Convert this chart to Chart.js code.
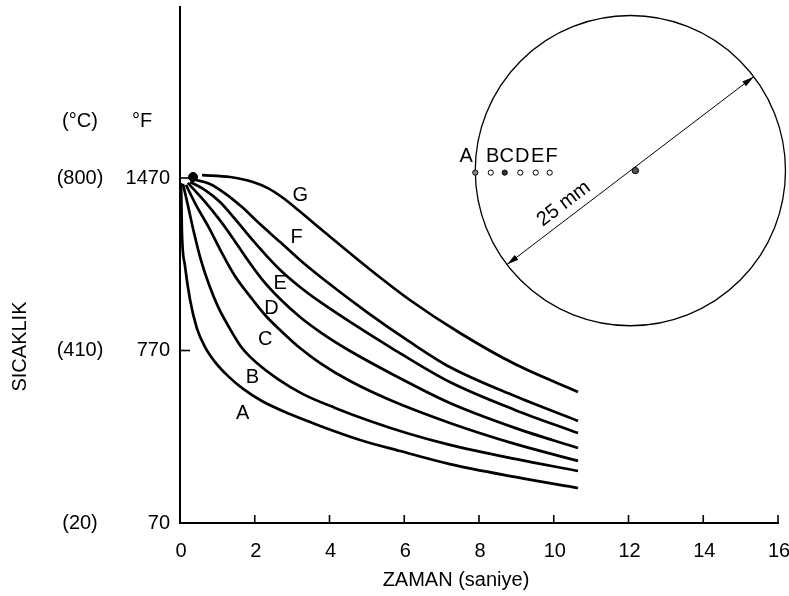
<!DOCTYPE html>
<html lang="tr">
<head>
<meta charset="UTF-8">
<title>Sıcaklık - Zaman</title>
<script src="https://cdn.jsdelivr.net/npm/chart.js"></script>
<style>
  html, body { margin: 0; padding: 0; background: #fff; }
  canvas { display: block; }
</style>
</head>
<body>
<canvas id="coolingChart" width="789" height="596"></canvas>
<script>
// cooling curves, time (s) vs temperature (°F), one array per sampling point
const curveA = [[0.03,1450],[0.05,1259],[0.13,1117],[0.27,975],[0.45,861],[0.67,784],[0.94,723],[1.28,667],[1.69,614],[2.19,565],[2.94,512],[3.75,464],[4.82,407],[5.89,362],[7.22,309],[8.96,257],[10.65,212]];
const curveB = [[0.08,1446],[0.21,1360],[0.37,1251],[0.56,1137],[0.78,1036],[1.02,947],[1.31,865],[1.66,780],[2.09,715],[2.62,654],[3.29,593],[4.15,537],[5.08,484],[6.15,431],[7.22,387],[8.96,330],[10.65,281]];
const curveC = [[0.16,1442],[0.43,1360],[0.78,1267],[1.12,1166],[1.47,1072],[1.95,975],[2.30,910],[2.68,853],[3.21,780],[3.75,719],[4.55,646],[5.62,569],[7.22,476],[8.96,391],[10.65,322]];
const curveD = [[0.21,1450],[0.67,1373],[1.04,1304],[1.39,1231],[1.74,1153],[2.19,1060],[2.68,979],[3.21,906],[3.75,845],[4.55,768],[5.62,679],[7.22,557],[8.96,456],[10.65,374]];
const curveE = [[0.27,1454],[0.67,1421],[1.07,1373],[1.47,1304],[1.87,1231],[2.27,1162],[2.68,1097],[3.21,1028],[3.75,967],[4.55,886],[5.62,784],[7.22,642],[8.96,529],[10.65,435]];
const curveF = [[0.43,1462],[0.80,1446],[1.23,1405],[1.66,1352],[2.11,1287],[2.68,1210],[3.21,1137],[3.83,1060],[5.00,926],[6.15,805],[7.22,703],[8.96,585],[10.65,484]];
const curveG = [[0.59,1482],[1.34,1474],[1.95,1454],[2.35,1429],[2.76,1389],[3.16,1340],[3.83,1255],[5.00,1109],[6.15,975],[7.49,841],[8.96,715],[10.65,602]];
const startPoint = [[0.35,1474]];

const curveNames = ['A', 'B', 'C', 'D', 'E', 'F', 'G'];
const curves = [curveA, curveB, curveC, curveD, curveE, curveF, curveG];

const xTicks = [0, 2, 4, 6, 8, 10, 12, 14, 16];
const fahrenheitTicks = [70, 770, 1470];
const celsiusLabels = ['(20)', '(410)', '(800)'];

// where each curve letter sits (time, °F)
const labelSpots = [[1.68,516],[1.94,662],[2.28,813],[2.45,942],[2.68,1044],[3.12,1227],[3.22,1401]];

// bar cross-section: center, radius in seconds, sampling depths as fraction of radius
const barCenter = [12.05, 1500];
const barRadius = 4.15;
const sampleNames = ['A', 'B', 'C', 'D', 'E', 'F'];
const sampleDepths = [1.0, 0.9, 0.81, 0.71, 0.61, 0.52];
const sampleFilled = [false, false, true, false, false, false];

const FONT = "'Liberation Sans', Arial, Helvetica, sans-serif";

const overlay = {
  id: 'overlay',
  afterDraw(chart) {
    const { ctx, scales: { x, y } } = chart;
    const x0 = x.getPixelForValue(0);
    const y0 = y.getPixelForValue(70);
    ctx.save();
    ctx.strokeStyle = '#000';
    ctx.fillStyle = '#000';

    // inward ticks
    ctx.lineWidth = 1.6;
    xTicks.slice(1).forEach(v => {
      const px = x.getPixelForValue(v);
      ctx.beginPath(); ctx.moveTo(px, y0); ctx.lineTo(px, y0 - 8); ctx.stroke();
    });
    fahrenheitTicks.slice(1).forEach(v => {
      const py = y.getPixelForValue(v);
      ctx.beginPath(); ctx.moveTo(x0, py); ctx.lineTo(x0 + 10, py); ctx.stroke();
    });

    ctx.font = '20px ' + FONT;
    ctx.textBaseline = 'middle';

    // tick labels
    ctx.textAlign = 'center';
    xTicks.forEach(v => ctx.fillText(String(v), x.getPixelForValue(v) + 1, y0 + 28));
    ctx.textAlign = 'right';
    fahrenheitTicks.forEach(v => ctx.fillText(String(v), x0 - 10, y.getPixelForValue(v)));

    // celsius column and unit headers
    ctx.textAlign = 'center';
    const cCol = x0 - 100;
    fahrenheitTicks.forEach((v, i) => {
      ctx.fillText(celsiusLabels[i], cCol, y.getPixelForValue(v));
    });
    const headY = y.getPixelForValue(1470) - 57;
    ctx.fillText('(°C)', cCol, headY);
    ctx.fillText('°F', x0 - 38, headY);

    // axis titles
    ctx.fillText('ZAMAN (saniye)', x0 + 276, y0 + 57);
    ctx.save();
    ctx.translate(20, y.getPixelForValue(770) - 4);
    ctx.rotate(-Math.PI / 2);
    ctx.fillText('SICAKLIK', 0, 0);
    ctx.restore();

    // curve letters
    labelSpots.forEach(([t, f], i) => {
      ctx.fillText(curveNames[i], x.getPixelForValue(t), y.getPixelForValue(f));
    });

    // bar cross-section
    const cx = x.getPixelForValue(barCenter[0]);
    const cy = y.getPixelForValue(barCenter[1]);
    const r = x.getPixelForValue(barCenter[0] + barRadius) - cx;
    ctx.lineWidth = 1.3;
    ctx.beginPath(); ctx.arc(cx, cy, r, 0, Math.PI * 2); ctx.stroke();

    // diameter with arrowheads
    const ang = 37.3 * Math.PI / 180;
    const ux = Math.cos(ang), uy = -Math.sin(ang);
    ctx.lineWidth = 1;
    ctx.beginPath();
    ctx.moveTo(cx - ux * r, cy - uy * r);
    ctx.lineTo(cx + ux * r, cy + uy * r);
    ctx.stroke();
    [1, -1].forEach(s => {
      const tx = cx + s * ux * r, ty = cy + s * uy * r;
      const bx = tx - s * ux * 12, by = ty - s * uy * 12;
      ctx.beginPath();
      ctx.moveTo(tx, ty);
      ctx.lineTo(bx - uy * 3, by + ux * 3);
      ctx.lineTo(bx + uy * 3, by - ux * 3);
      ctx.closePath();
      ctx.fill();
    });

    // center point (curve G)
    ctx.fillStyle = '#555';
    ctx.beginPath(); ctx.arc(cx + 5, cy, 3.2, 0, Math.PI * 2); ctx.fill(); ctx.stroke();

    // diameter label
    ctx.save();
    ctx.translate(cx - ux * 73 + uy * 14, cy - uy * 73 - ux * 14);
    ctx.rotate(-ang);
    ctx.fillStyle = '#000';
    ctx.textAlign = 'center';
    ctx.fillText('25 mm', 0, 0);
    ctx.restore();

    // sampling points A–F
    sampleDepths.forEach((d, i) => {
      const px = cx - d * r;
      ctx.beginPath();
      ctx.arc(px, cy + 2, 2.6, 0, Math.PI * 2);
      ctx.fillStyle = i === 0 ? '#888' : (sampleFilled[i] ? '#333' : '#fff');
      ctx.fill();
      ctx.lineWidth = 1;
      ctx.stroke();
      ctx.fillStyle = '#000';
      ctx.fillText(sampleNames[i], px + (i === 0 ? -9 : 2), cy - 14);
    });

    ctx.restore();
  }
};

const datasets = curves.map((c, i) => ({
  label: curveNames[i],
  data: c.map(([t, f]) => ({ x: t, y: f })),
  borderColor: '#000',
  borderWidth: 2.7,
  pointRadius: 0,
  cubicInterpolationMode: 'monotone',
  fill: false
}));
datasets.push({
  label: 'start',
  data: startPoint.map(([t, f]) => ({ x: t, y: f })),
  showLine: false,
  pointRadius: 4.5,
  pointBackgroundColor: '#000',
  pointBorderColor: '#000'
});

new Chart(document.getElementById('coolingChart'), {
  type: 'line',
  data: { datasets },
  options: {
    responsive: false,
    animation: false,
    layout: { padding: { top: 7, right: 11, left: 0, bottom: 0 } },
    plugins: { legend: { display: false }, tooltip: { enabled: false } },
    scales: {
      x: {
        type: 'linear',
        min: 0,
        max: 16,
        afterFit: s => { s.height = 73; },
        grid: { display: false, drawTicks: false },
        border: { display: true, color: '#000', width: 2 },
        ticks: { display: false }
      },
      y: {
        type: 'linear',
        min: 70,
        max: 2164,
        afterFit: s => { s.width = 180; },
        grid: { display: false, drawTicks: false },
        border: { display: true, color: '#000', width: 2 },
        ticks: { display: false }
      }
    }
  },
  plugins: [overlay]
});
</script>
</body>
</html>
